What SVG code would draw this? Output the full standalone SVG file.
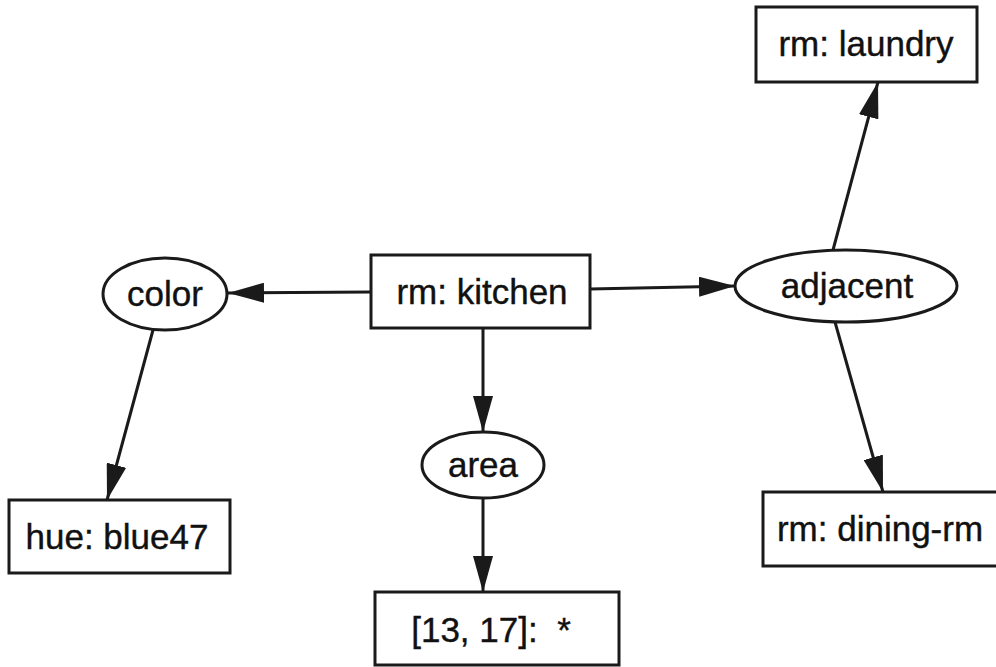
<svg xmlns="http://www.w3.org/2000/svg" width="996" height="667" viewBox="0 0 996 667">
<style>
.n{fill:#fff;stroke:#1a1a1a;stroke-width:3}
.t{font-family:"Liberation Sans",Arial,sans-serif;font-size:35px;fill:#111;stroke:#111;stroke-width:0.4;text-anchor:middle}
.e{stroke:#1a1a1a;stroke-width:3;fill:none;marker-end:url(#ah)}
</style>
<defs>
<marker id="ah" viewBox="0 0 36 20" refX="36" refY="10" markerWidth="36" markerHeight="20" markerUnits="userSpaceOnUse" orient="auto">
<path d="M0,0 L36,10 L0,20 Z" fill="#1a1a1a"/>
</marker>
</defs>
<rect width="996" height="667" fill="#fff"/>
<g id="connectors">
<line class="e" x1="371" y1="292" x2="228" y2="293"/>
<line class="e" x1="590" y1="289" x2="735" y2="286"/>
<line class="e" x1="483" y1="328" x2="483" y2="432"/>
<line class="e" x1="483" y1="498" x2="483" y2="592"/>
<line class="e" x1="153" y1="330" x2="107" y2="500"/>
<line class="e" x1="833" y1="250" x2="878" y2="82"/>
<line class="e" x1="835" y1="322" x2="883" y2="492"/>
</g>
<g id="kitchen"><rect class="n" x="371" y="255" width="219" height="73"/><text class="t" x="482" y="304">rm: kitchen</text></g>
<g id="laundry"><rect class="n" x="756" y="7" width="221" height="75"/><text class="t" x="866" y="56">rm: laundry</text></g>
<g id="color"><ellipse class="n" cx="165" cy="294" rx="62" ry="36"/><text class="t" x="165" y="306">color</text></g>
<g id="adjacent"><ellipse class="n" cx="846" cy="286" rx="111" ry="36"/><text class="t" x="847" y="298">adjacent</text></g>
<g id="area"><ellipse class="n" cx="483" cy="465" rx="61" ry="33"/><text class="t" x="483" y="477">area</text></g>
<g id="hue"><rect class="n" x="9" y="500" width="221" height="73"/><text class="t" x="117" y="549">hue: blue47</text></g>
<g id="dining"><rect class="n" x="763" y="492" width="245" height="74"/><text class="t" x="880" y="541">rm: dining-rm</text></g>
<g id="value"><rect class="n" x="375" y="592" width="244" height="73"/><text class="t" x="491" y="642" xml:space="preserve">[13, 17]:  *</text></g>
</svg>
